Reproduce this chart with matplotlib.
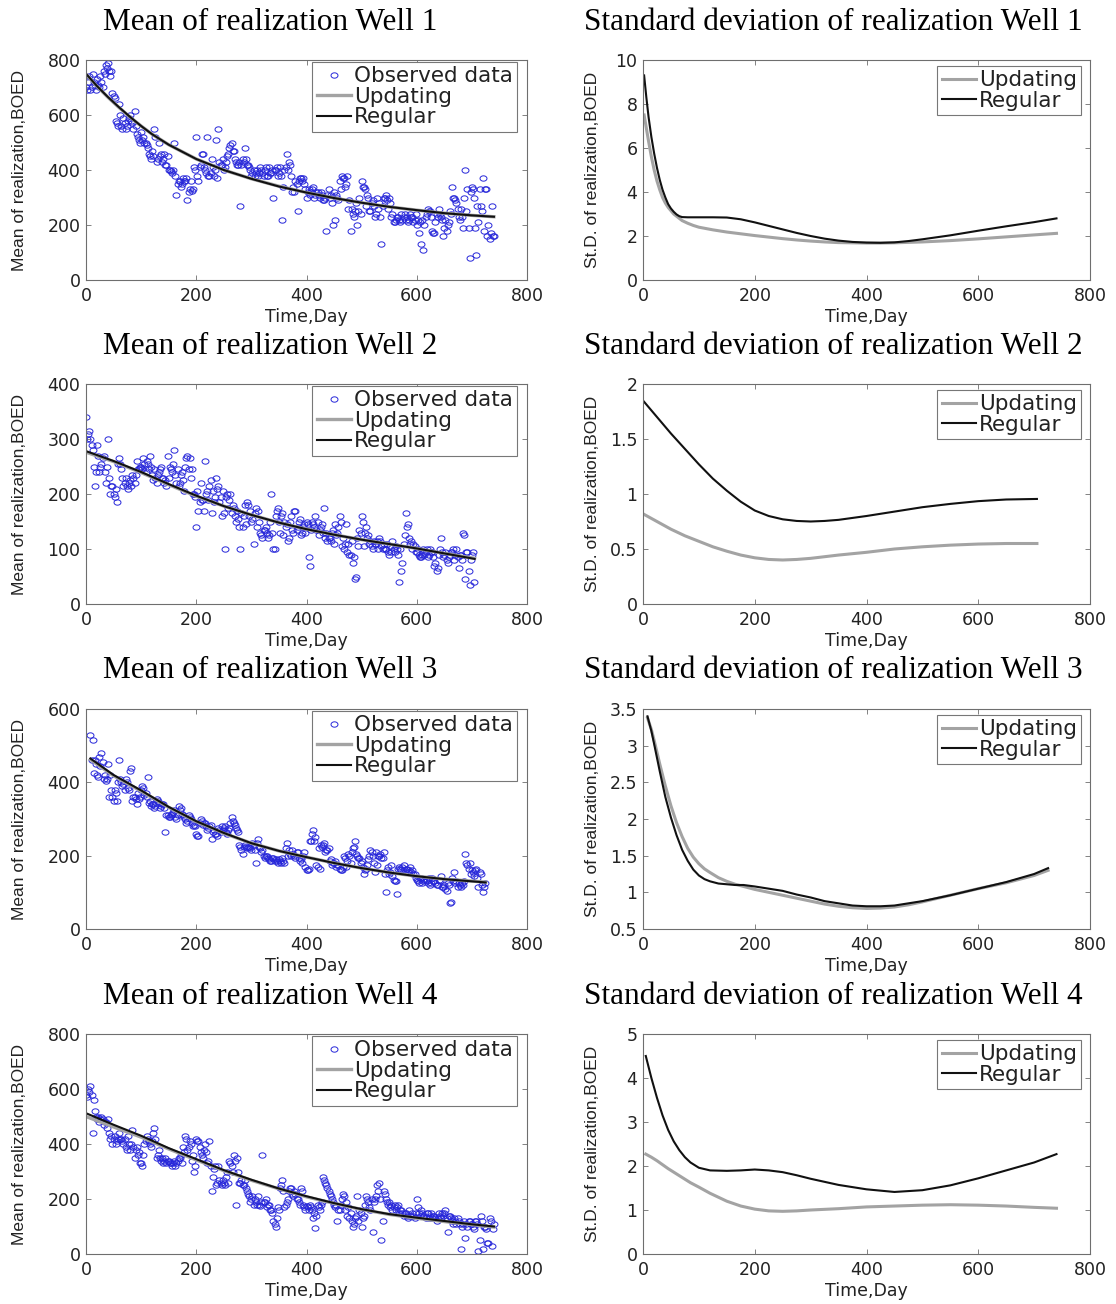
import numpy as np
import matplotlib
matplotlib.use("Agg")
import matplotlib.pyplot as plt
from matplotlib.path import Path

# ---------------------------------------------------------------- data
# observed production (BOED); two interleaved reading schedules per well
w1_obs_day = np.arange(0, 741, 4)
w1_obs = [700, 720, 690, 750, 710, 730, 700, 720, 760, 780,
          790, 740, 680, 660, 570, 640, 560, 590, 550, 580,
          600, 570, 615, 530, 510, 540, 520, 500, 480, 450,
          470, 550, 430, 500, 460, 440, 420, 450, 400, 390,
          500, 310, 360, 340, 370, 360, 290, 330, 325, 410,
          520, 360, 420, 460, 400, 520, 380, 440, 380, 510,
          550, 420, 440, 410, 450, 480, 500, 470, 430, 420,
          270, 440, 480, 420, 410, 380, 400, 390, 380, 410,
          390, 400, 380, 410, 390, 300, 400, 380, 410, 220,
          400, 460, 430, 380, 340, 360, 250, 370, 360, 350,
          300, 330, 320, 340, 310, 320, 300, 310, 290, 180,
          330, 310, 200, 220, 300, 360, 380, 370, 350, 260,
          180, 240, 250, 200, 300, 360, 340, 270, 300, 250,
          290, 230, 300, 280, 130, 300, 310, 260, 280, 240,
          210, 230, 220, 240, 230, 220, 210, 240, 230, 220,
          200, 170, 130, 110, 230, 260, 250, 180, 170, 240,
          260, 230, 160, 220, 200, 250, 340, 300, 280, 230,
          260, 190, 400, 330, 80, 340, 300, 90, 210, 270,
          370, 330, 160, 150, 270, 160]
w1_obs2_day = np.arange(2, 739, 4)
w1_obs2 = [690, 740, 700, 720, 690, 710, 740, 700, 750, 770,
           760, 760, 670, 580, 560, 600, 550, 570, 560, 590,
           580, 550, 560, 520, 500, 510, 500, 490, 460, 440,
           450, 520, 440, 450, 430, 460, 420, 400, 395, 400,
           380, 350, 360, 350, 360, 370, 320, 360, 330, 400,
           380, 410, 460, 410, 390, 380, 390, 410, 400, 370,
           430, 420, 400, 430, 460, 490, 470, 440, 420, 430,
           420, 430, 440, 420, 400, 390, 380, 400, 390, 400,
           380, 410, 380, 390, 400, 400, 410, 390, 380, 340,
           410, 400, 420, 320, 320, 350, 360, 370, 370, 330,
           320, 310, 330, 300, 320, 310, 320, 290, 300, 310,
           300, 280, 320, 310, 290, 330, 370, 340, 380, 290,
           260, 230, 280, 250, 240, 340, 330, 310, 250, 280,
           270, 240, 260, 230, 270, 300, 290, 300, 230, 210,
           220, 230, 210, 220, 240, 230, 220, 230, 210, 240,
           220, 210, 220, 200, 240, 250, 230, 170, 210, 230,
           240, 220, 190, 180, 210, 240, 300, 290, 260, 220,
           230, 300, 250, 190, 320, 330, 190, 270, 330, 250,
           180, 330, 200, 170, 160]

w2_obs_day = np.arange(0, 705, 4)
w2_obs = [340, 310, 300, 280, 215, 290, 240, 255, 270, 220,
          300, 200, 215, 195, 185, 265, 245, 215, 230, 210,
          225, 235, 220, 260, 245, 250, 265, 240, 255, 270,
          235, 245, 220, 240, 250, 230, 225, 270, 250, 240,
          280, 220, 215, 235, 225, 250, 270, 265, 245, 200,
          140, 170, 220, 190, 260, 205, 215, 165, 185, 230,
          215, 195, 205, 100, 200, 190, 165, 175, 150, 155,
          100, 140, 180, 185, 160, 150, 110, 175, 170, 130,
          120, 135, 130, 125, 200, 100, 160, 175, 130, 165,
          150, 145, 120, 160, 130, 170, 140, 155, 130, 145,
          150, 85, 135, 145, 160, 150, 135, 145, 175, 130,
          120, 115, 135, 145, 130, 160, 105, 100, 145, 110,
          90, 75, 45, 120, 135, 160, 105, 140, 125, 115,
          100, 110, 115, 120, 105, 110, 100, 95, 105, 115,
          95, 100, 40, 60, 110, 165, 145, 110, 100, 105,
          95, 90, 85, 100, 95, 85, 100, 95, 70, 60,
          90, 120, 85, 95, 75, 90, 95, 80, 100, 65,
          90, 130, 45, 95, 35, 90, 40]
w2_obs2_day = np.arange(2, 703, 4)
w2_obs2 = [300, 315, 290, 250, 240, 270, 250, 265, 240, 250,
           230, 215, 200, 210, 255, 255, 230, 220, 215, 220,
           215, 230, 235, 245, 250, 245, 255, 260, 245, 250,
           225, 230, 235, 245, 230, 220, 215, 230, 245, 255,
           235, 245, 220, 240, 205, 265, 245, 230, 200, 195,
           205, 185, 190, 170, 200, 190, 225, 205, 195, 210,
           185, 160, 165, 195, 175, 200, 180, 160, 170, 140,
           165, 160, 145, 180, 170, 155, 165, 140, 150, 125,
           135, 140, 120, 150, 130, 100, 170, 150, 160, 125,
           140, 115, 150, 135, 170, 135, 150, 125, 140, 130,
           145, 70, 150, 140, 135, 125, 140, 130, 120, 115,
           120, 130, 110, 125, 140, 150, 120, 110, 95, 90,
           115, 85, 50, 105, 130, 150, 130, 120, 110, 105,
           115, 110, 100, 115, 100, 100, 110, 90, 95, 100,
           105, 90, 100, 75, 125, 140, 120, 115, 110, 95,
           100, 85, 90, 90, 100, 90, 95, 85, 75, 65,
           100, 95, 90, 80, 85, 95, 100, 90, 85, 90,
           80, 125, 95, 60, 80, 95]

w3_obs_day = np.arange(8, 725, 4)
w3_obs = [530, 515, 460, 420, 470, 480, 410, 405, 450, 420,
          360, 380, 350, 460, 400, 395, 410, 385, 430, 350,
          360, 340, 355, 380, 385, 370, 415, 350, 340, 330,
          355, 345, 335, 340, 265, 310, 305, 315, 325, 300,
          335, 330, 310, 300, 295, 305, 290, 285, 260, 255,
          300, 285, 290, 270, 280, 245, 270, 260, 275, 265,
          270, 280, 260, 275, 305, 290, 275, 265, 225, 205,
          230, 220, 225, 215, 230, 180, 245, 220, 215, 195,
          200, 190, 185, 195, 190, 180, 185, 195, 180, 235,
          215, 200, 205, 195, 210, 185, 180, 210, 160, 165,
          240, 270, 250, 170, 165, 225, 235, 215, 220, 190,
          180, 185, 175, 165, 160, 200, 170, 205, 180, 220,
          240, 200, 195, 185, 150, 165, 190, 215, 200, 155,
          175, 200, 195, 210, 100, 170, 155, 145, 130, 95,
          170, 160, 175, 165, 155, 170, 160, 150, 135, 125,
          140, 130, 135, 125, 120, 140, 130, 120, 135, 145,
          115, 110, 125, 70, 140, 155, 130, 125, 115, 120,
          205, 175, 180, 160, 145, 165, 115, 150, 100, 125]
w3_obs2_day = np.arange(10, 723, 4)
w3_obs2 = [460, 425, 450, 415, 445, 455, 420, 410, 360, 380,
           350, 370, 400, 410, 390, 380, 400, 380, 440, 360,
           355, 370, 360, 390, 365, 360, 345, 335, 340, 335,
           350, 330, 340, 330, 310, 305, 310, 320, 305, 310,
           325, 315, 305, 290, 310, 300, 280, 280, 255, 290,
           295, 290, 280, 275, 285, 265, 260, 255, 270, 280,
           275, 265, 270, 290, 295, 285, 270, 230, 215, 225,
           225, 225, 220, 235, 215, 235, 225, 210, 200, 200,
           195, 185, 195, 185, 185, 190, 180, 185, 220, 200,
           205, 215, 200, 210, 195, 190, 200, 170, 160, 240,
           260, 240, 175, 220, 230, 230, 210, 215, 185, 175,
           180, 170, 175, 160, 170, 195, 185, 200, 210, 225,
           205, 195, 180, 170, 160, 175, 200, 210, 180, 210,
           200, 205, 195, 150, 160, 150, 175, 135, 130, 165,
           165, 170, 155, 165, 160, 155, 150, 140, 130, 140,
           125, 135, 130, 140, 125, 130, 125, 120, 130, 115,
           120, 105, 120, 75, 130, 125, 115, 120, 125, 130,
           180, 165, 150, 155, 160, 140, 155, 120, 115]

w4_obs_day = np.arange(0, 741, 4)
w4_obs = [580, 600, 610, 440, 520, 490, 480, 500, 470, 480,
          490, 420, 400, 430, 410, 440, 420, 400, 390, 430,
          380, 450, 350, 390, 370, 330, 360, 410, 420, 400,
          410, 460, 350, 380, 340, 330, 350, 340, 330, 320,
          340, 330, 350, 360, 390, 430, 380, 410, 340, 300,
          420, 410, 370, 350, 400, 330, 410, 230, 310, 250,
          320, 260, 270, 250, 300, 340, 320, 360, 180, 300,
          260, 250, 270, 230, 210, 200, 180, 190, 210, 175,
          360, 190, 170, 180, 160, 120, 100, 170, 240, 270,
          170, 190, 230, 240, 210, 220, 200, 180, 230, 170,
          175, 160, 170, 130, 95, 180, 160, 190, 270, 250,
          230, 210, 190, 170, 120, 160, 200, 210, 190, 170,
          150, 100, 130, 210, 160, 100, 140, 210, 190, 160,
          80, 200, 250, 260, 50, 230, 200, 180, 170, 160,
          180, 170, 150, 160, 140, 150, 130, 140, 150, 130,
          200, 150, 160, 140, 130, 150, 140, 130, 140, 120,
          150, 130, 140, 160, 80, 140, 120, 130, 110, 120,
          20, 110, 60, 100, 120, 110, 90, 120, 10, 140,
          20, 100, 40, 130, 30, 110]
w4_obs2_day = np.arange(2, 739, 4)
w4_obs2 = [570, 590, 580, 560, 500, 500, 490, 490, 480, 460,
           440, 430, 420, 400, 420, 420, 410, 420, 380, 400,
           400, 390, 380, 360, 330, 320, 400, 430, 410, 390,
           440, 420, 360, 350, 350, 340, 330, 340, 330, 330,
           320, 340, 350, 330, 370, 420, 390, 400, 360, 320,
           410, 390, 360, 380, 370, 340, 320, 280, 320, 260,
           270, 250, 260, 280, 260, 330, 300, 340, 350, 260,
           270, 250, 240, 220, 190, 210, 200, 180, 180, 190,
           190, 200, 180, 160, 150, 110, 130, 160, 250, 230,
           180, 200, 240, 220, 230, 200, 190, 240, 180, 160,
           170, 180, 160, 150, 140, 170, 180, 280, 260, 240,
           220, 200, 180, 180, 160, 180, 220, 160, 140, 130,
           120, 110, 140, 120, 150, 130, 180, 200, 170, 200,
           190, 210, 230, 200, 120, 220, 190, 190, 180, 170,
           160, 180, 160, 150, 150, 140, 160, 140, 140, 150,
           170, 140, 150, 140, 150, 130, 150, 140, 130, 130,
           140, 150, 150, 130, 140, 130, 110, 120, 130, 110,
           100, 120, 110, 120, 110, 100, 120, 110, 50, 120,
           100, 90, 40, 120, 90]

# ensemble mean of the realizations
w1_mean_day = [0, 20, 40, 60, 80, 100, 120, 150, 200, 250, 300, 350, 400, 450, 500, 550, 600, 650, 700, 740]
w1_mean_upd = [748, 704, 664, 627, 592, 560, 530, 492, 440, 400, 368, 341, 318, 298, 281, 266, 254, 243, 235, 230]
w1_mean_reg = [750, 705, 665, 628, 593, 560, 530, 492, 440, 400, 368, 340, 318, 298, 281, 266, 254, 243, 235, 230]

w2_mean_day = [0, 50, 100, 150, 200, 250, 300, 350, 400, 450, 500, 550, 600, 650, 705]
w2_mean_upd = [276, 259, 239, 217, 196, 178, 162, 148, 136, 126, 117, 109, 101, 92, 83]
w2_mean_reg = [278, 260, 240, 218, 197, 178, 162, 148, 136, 126, 117, 109, 101, 92, 82]

w3_mean_day = [8, 50, 100, 150, 200, 250, 300, 350, 400, 450, 500, 550, 600, 650, 725]
w3_mean_upd = [462, 418, 376, 332, 293, 261, 234, 213, 196, 180, 166, 154, 144, 136, 128]
w3_mean_reg = [465, 420, 378, 333, 294, 262, 234, 213, 196, 180, 166, 154, 144, 136, 127]

w4_mean_day = [0, 50, 100, 150, 200, 250, 300, 350, 400, 450, 500, 550, 600, 650, 700, 740]
w4_mean_upd = [500, 462, 425, 382, 342, 303, 268, 237, 208, 184, 162, 144, 130, 118, 107, 98]
w4_mean_reg = [512, 470, 430, 385, 345, 305, 270, 238, 210, 185, 163, 145, 132, 120, 108, 100]

# ensemble standard deviation of the realizations
w1_std_day = [2, 6, 10, 15, 20, 25, 30, 35, 40, 45, 50, 55, 60, 65, 70, 80, 90, 100, 125, 150,
              175, 200, 225, 250, 275, 300, 325, 350, 375, 400, 425, 450, 475, 500, 550, 600, 650, 700, 740]
w1_std_upd = [7.5, 6.9, 6.3, 5.6, 5.0, 4.5, 4.1, 3.75, 3.5, 3.3, 3.15, 3.0, 2.9, 2.8, 2.7, 2.58, 2.48, 2.4, 2.28, 2.18,
              2.1, 2.02, 1.95, 1.88, 1.82, 1.77, 1.73, 1.7, 1.69, 1.68, 1.68, 1.69, 1.71, 1.73, 1.79, 1.87, 1.96, 2.05, 2.12]
w1_std_reg = [9.3, 8.3, 7.4, 6.5, 5.75, 5.1, 4.55, 4.1, 3.75, 3.45, 3.25, 3.1, 2.98, 2.9, 2.86, 2.85, 2.85, 2.85, 2.85, 2.84,
              2.76, 2.62, 2.46, 2.3, 2.14, 2.0, 1.88, 1.79, 1.73, 1.7, 1.69, 1.71, 1.77, 1.85, 2.03, 2.24, 2.44, 2.63, 2.8]

w2_std_day = [0, 25, 50, 75, 100, 125, 150, 175, 200, 225, 250, 275, 300, 325, 350, 400, 450, 500, 550, 600, 650, 705]
w2_std_upd = [0.82, 0.75, 0.68, 0.62, 0.57, 0.52, 0.48, 0.445, 0.42, 0.405, 0.40, 0.405, 0.415, 0.43, 0.445,
              0.47, 0.50, 0.52, 0.535, 0.545, 0.55, 0.55]
w2_std_reg = [1.85, 1.70, 1.55, 1.41, 1.27, 1.14, 1.03, 0.93, 0.85, 0.80, 0.77, 0.755, 0.75, 0.755, 0.765,
              0.80, 0.84, 0.88, 0.91, 0.935, 0.95, 0.955]

w3_std_day = [8, 15, 20, 30, 40, 50, 60, 70, 80, 90, 100, 110, 120, 135, 150, 165, 180, 200, 225, 250,
              275, 300, 325, 350, 375, 400, 425, 450, 475, 500, 550, 600, 650, 700, 725]
w3_std_upd = [3.38, 3.22, 3.07, 2.75, 2.45, 2.18, 1.95, 1.76, 1.6, 1.48, 1.39, 1.32, 1.27, 1.2, 1.15, 1.11, 1.08, 1.04, 1.0, 0.96,
              0.92, 0.88, 0.84, 0.81, 0.79, 0.78, 0.785, 0.8, 0.83, 0.87, 0.96, 1.05, 1.13, 1.23, 1.3]
w3_std_reg = [3.4, 3.2, 3.02, 2.65, 2.3, 2.02, 1.78, 1.58, 1.43, 1.31, 1.23, 1.18, 1.15, 1.12, 1.11, 1.1, 1.1, 1.08, 1.05, 1.02,
              0.97, 0.93, 0.88, 0.85, 0.82, 0.81, 0.81, 0.82, 0.85, 0.88, 0.96, 1.05, 1.14, 1.25, 1.33]

w4_std_day = [5, 15, 25, 35, 45, 55, 65, 75, 85, 100, 120, 150, 175, 200, 225, 250, 275, 300,
              350, 400, 450, 500, 550, 600, 650, 700, 740]
w4_std_upd = [2.27, 2.2, 2.12, 2.03, 1.94, 1.86, 1.78, 1.7, 1.62, 1.52, 1.38, 1.2, 1.09, 1.02, 0.98, 0.97, 0.98, 1.0,
              1.03, 1.07, 1.09, 1.11, 1.12, 1.11, 1.09, 1.06, 1.04]
w4_std_reg = [4.5, 4.0, 3.55, 3.15, 2.82, 2.56, 2.36, 2.2, 2.08, 1.96, 1.9, 1.89, 1.9, 1.92, 1.9, 1.86, 1.79, 1.71,
              1.57, 1.47, 1.41, 1.45, 1.56, 1.72, 1.9, 2.08, 2.27]

mean_ylim = [(0, 800), (0, 400), (0, 600), (0, 800)]
mean_ystep = [200, 100, 200, 200]
std_ylim = [(0, 10), (0, 2), (0.5, 3.5), (0, 5)]
std_ystep = [2, 0.5, 0.5, 1]

wells = [
    ((w1_obs_day, w1_obs, w1_obs2_day, w1_obs2), (w1_mean_day, w1_mean_upd, w1_mean_reg), (w1_std_day, w1_std_upd, w1_std_reg)),
    ((w2_obs_day, w2_obs, w2_obs2_day, w2_obs2), (w2_mean_day, w2_mean_upd, w2_mean_reg), (w2_std_day, w2_std_upd, w2_std_reg)),
    ((w3_obs_day, w3_obs, w3_obs2_day, w3_obs2), (w3_mean_day, w3_mean_upd, w3_mean_reg), (w3_std_day, w3_std_upd, w3_std_reg)),
    ((w4_obs_day, w4_obs, w4_obs2_day, w4_obs2), (w4_mean_day, w4_mean_upd, w4_mean_reg), (w4_std_day, w4_std_upd, w4_std_reg)),
]

# ---------------------------------------------------------------- style
W, H = 1116, 1304
GRAY = "#a3a3a3"
BLACK = "#111111"
BLUE = "#2626d9"
FRAME = "#6e6e6e"
TXT = "#222222"

t = np.linspace(0, 2 * np.pi, 41)
oval = Path(np.column_stack([1.3 * np.cos(t), np.sin(t)]), closed=True)

fig = plt.figure(figsize=(W / 100, H / 100), dpi=100)


def px_axes(x0, x1, top, h=220):
    return fig.add_axes([x0 / W, 1 - (top + h) / H, (x1 - x0) / W, h / H])


def style(ax, ylim, ystep, ylabel, ylab_x):
    ax.set_xlim(0, 800)
    ax.set_xticks(np.arange(0, 801, 200))
    ax.set_ylim(*ylim)
    ax.set_yticks(np.arange(ylim[0], ylim[1] + ystep / 2, ystep))
    ax.set_yticklabels([f"{v:g}" for v in ax.get_yticks()])
    for s in ax.spines.values():
        s.set_color(FRAME)
        s.set_linewidth(0.8)
    ax.tick_params(direction="in", length=3.5, width=0.6, color=FRAME,
                   top=True, right=True, labelsize=12.5, labelcolor=TXT)
    ax.tick_params(axis="x", pad=5)
    ax.tick_params(axis="y", pad=4)
    for lab in ax.get_xticklabels() + ax.get_yticklabels():
        lab.set_family("DejaVu Sans")
    ax.set_xlabel("Time,Day", family="DejaVu Sans", fontsize=12.5, color=TXT, va="center")
    ax.xaxis.set_label_coords(0.5, -0.17)
    ax.set_ylabel(ylabel, family="Liberation Sans", fontsize=12.5, color=TXT, va="center")
    ax.yaxis.set_label_coords(ylab_x, 0.5)


def legend(ax, x, y):
    leg = ax.legend(loc="upper right", bbox_to_anchor=(x, y), borderaxespad=0,
                    prop={"family": "DejaVu Sans", "size": 15.5}, frameon=True,
                    fancybox=False, framealpha=1, edgecolor="#777777",
                    labelspacing=0.03, borderpad=0.2, handlelength=1.6,
                    handletextpad=0.12, markerscale=1.0)
    leg.get_frame().set_linewidth(0.8)
    for txt in leg.get_texts():
        txt.set_color(TXT)


tops = [60, 384, 709, 1034]
for i, (obs, mean, std) in enumerate(wells):
    top = tops[i]
    n = i + 1
    od = np.concatenate([obs[0], obs[2]])
    ov = np.concatenate([obs[1], obs[3]])

    # left column: observed data with ensemble means
    ax = px_axes(86, 527, top)
    ax.plot(od, ov, linestyle="none", marker=oval, ms=5.0, mfc="none",
            mec=BLUE, mew=0.7, label="Observed data")
    ax.plot(mean[0], mean[1], color=GRAY, lw=2.4, label="Updating")
    ax.plot(mean[0], mean[2], color=BLACK, lw=1.5, label="Regular")
    style(ax, mean_ylim[i], mean_ystep[i], "Mean of realization,BOED", -0.15)
    legend(ax, 0.977, 0.992)
    fig.text(270 / W, 1 - (top - 38) / H, f"Mean of realization Well {n}",
             family="Liberation Serif", fontsize=22.5, ha="center", va="center", color="black")

    # right column: ensemble standard deviations
    ax = px_axes(643, 1090, top)
    ax.plot(std[0], std[1], color=GRAY, lw=2.2, label="Updating")
    ax.plot(std[0], std[2], color=BLACK, lw=1.5, label="Regular")
    style(ax, std_ylim[i], std_ystep[i], "St.D. of realization,BOED", -0.114)
    legend(ax, 0.98, 0.973)
    fig.text(833 / W, 1 - (top - 38) / H, f"Standard deviation of realization Well {n}",
             family="Liberation Serif", fontsize=22.5, ha="center", va="center", color="black")

fig.savefig("out.png", dpi=100, facecolor="white")
